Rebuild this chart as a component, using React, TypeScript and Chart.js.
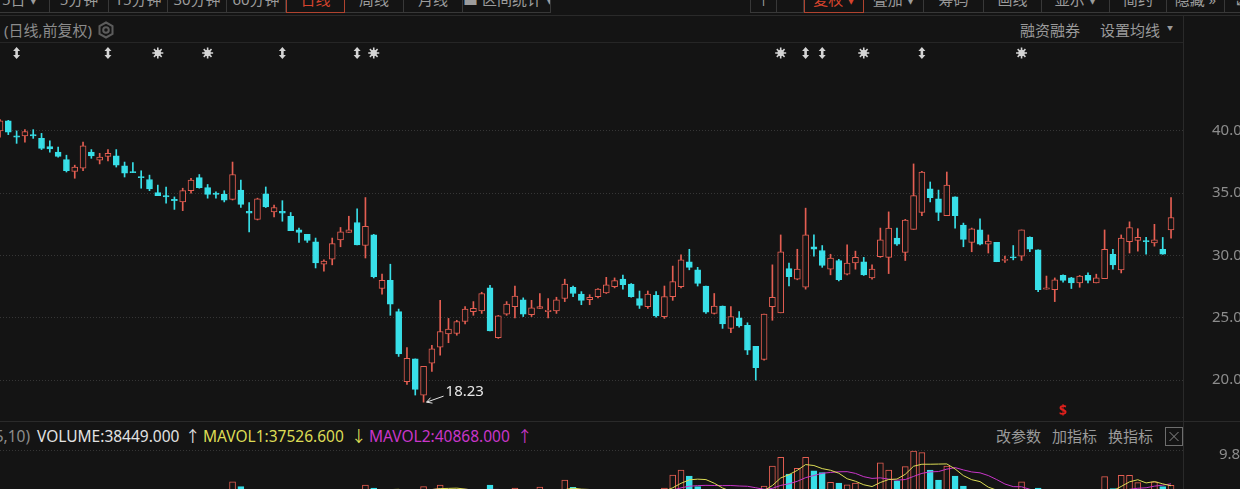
import React, { useEffect, useRef } from 'react';
import { Chart, registerables } from 'chart.js';

Chart.register(...registerables);

// ---------- data ----------
const openPrices = [
  40.0, 40.8, 39.6, 39.6, 39.7, 39.4, 38.75, 38.3, 37.7, 36.75,
  37.0, 38.3, 37.65, 37.95, 38.0, 37.2, 36.7, 36.3, 36.1, 35.05,
  34.8, 34.5, 34.3, 35.2, 36.25, 35.45, 35.0, 34.9, 34.5, 35.25,
  33.55, 32.9, 34.95, 33.5, 33.55, 33.15, 32.05, 31.7, 31.1, 29.3,
  29.7, 31.25, 31.85, 32.65, 30.8, 31.65, 27.35, 28.0, 25.5, 19.87,
  21.7, 18.8, 21.35, 22.65, 23.7, 23.75, 24.7, 25.5, 25.55, 27.4,
  23.4, 25.3, 25.9, 26.45, 25.25, 25.75, 25.5, 25.55, 26.55, 27.45,
  26.9, 26.45, 26.7, 27.0, 27.5, 28.1, 27.7, 26.55, 25.9, 26.8,
  25.1, 26.7, 27.5, 29.5, 28.85, 27.55, 25.35, 25.95, 24.15, 25.0,
  24.4, 22.7, 21.65, 25.9, 25.4, 28.95, 28.1, 27.45, 30.7, 30.4,
  28.9, 29.6, 28.5, 29.4, 29.5, 28.2, 29.9, 29.85, 31.4, 30.25,
  32.1, 33.45, 35.35, 34.55, 33.2, 34.7, 32.45, 31.05, 32.05, 30.9,
  31.05, 29.6, 29.9, 29.95, 31.45, 30.45, 27.3, 27.25, 28.4, 28.2,
  27.8, 28.4, 27.8, 28.15, 30.1, 28.85, 31.1, 31.2, 31.2, 31.0,
  30.5, 32.05,
];
const highPrices = [
  40.9, 40.85, 40.0, 40.1, 40.1, 39.8, 39.2, 38.7, 38.05, 37.25,
  39.1, 38.5, 38.2, 38.5, 38.5, 37.5, 37.45, 36.8, 36.45, 35.65,
  35.5, 34.7, 35.4, 36.2, 36.5, 35.7, 35.1, 35.2, 37.5, 36.05,
  34.25, 34.6, 35.5, 34.05, 34.4, 33.45, 32.2, 31.7, 31.4, 29.65,
  31.4, 32.25, 33.15, 33.75, 34.65, 31.7, 28.5, 29.3, 25.7, 22.6,
  21.7, 21.1, 22.8, 26.4, 24.95, 24.8, 25.9, 26.3, 27.05, 27.6,
  25.2, 26.3, 27.55, 26.6, 26.4, 26.95, 26.55, 26.65, 28.1, 27.55,
  27.1, 26.85, 27.35, 28.25, 28.2, 28.43, 27.75, 27.15, 27.15, 27.1,
  27.55, 29.15, 30.05, 30.5, 29.05, 27.55, 26.95, 25.95, 25.9, 25.5,
  24.6, 22.7, 25.3, 29.25, 31.65, 29.4, 30.5, 33.8, 31.65, 30.8,
  30.1, 29.7, 30.85, 30.35, 29.85, 29.25, 32.2, 33.5, 32.2, 32.9,
  37.35, 36.75, 35.9, 35.25, 36.7, 34.7, 32.6, 32.2, 32.95, 31.65,
  31.05, 29.95, 30.8, 32.05, 31.5, 30.45, 28.35, 28.2, 28.45, 28.25,
  28.4, 28.6, 28.5, 32.05, 30.5, 31.65, 32.7, 32.15, 31.45, 32.5,
  31.45, 34.65,
];
const lowPrices = [
  39.5, 39.7, 39.0, 39.1, 39.4, 38.5, 38.3, 37.9, 36.7, 36.2,
  36.8, 37.8, 37.35, 37.6, 37.1, 36.3, 36.65, 35.4, 35.2, 34.8,
  34.2, 33.7, 33.6, 35.0, 35.4, 34.6, 34.6, 34.3, 34.45, 33.85,
  31.9, 32.85, 33.85, 33.1, 32.75, 32.0, 31.05, 31.05, 29.0, 28.75,
  29.25, 30.7, 31.85, 30.85, 29.8, 28.2, 26.9, 25.2, 21.9, 19.65,
  18.8, 18.23, 20.7, 22.0, 23.0, 23.6, 24.5, 25.2, 25.35, 23.95,
  23.35, 25.2, 25.0, 25.1, 25.1, 25.75, 25.0, 25.35, 26.3, 26.7,
  26.05, 26.05, 26.6, 26.95, 27.4, 27.3, 26.65, 25.75, 25.75, 25.05,
  24.95, 26.4, 27.4, 28.85, 27.55, 25.35, 25.3, 24.15, 23.8, 24.25,
  22.05, 20.0, 21.6, 24.8, 25.4, 27.55, 28.05, 27.3, 29.95, 29.05,
  28.45, 27.95, 28.45, 28.9, 28.4, 28.1, 29.85, 28.55, 30.8, 29.6,
  32.1, 33.2, 34.3, 32.8, 33.2, 32.2, 30.7, 30.3, 30.85, 30.2,
  29.5, 29.45, 29.65, 29.6, 30.3, 27.1, 27.3, 26.3, 27.85, 27.35,
  27.45, 27.8, 27.8, 28.15, 28.9, 28.6, 30.2, 30.35, 30.1, 30.75,
  30.1, 31.4,
];
const closePrices = [
  40.8, 39.9, 39.5, 39.95, 39.6, 38.6, 38.55, 37.95, 36.8, 37.1,
  38.8, 38.0, 37.9, 38.2, 37.25, 36.6, 36.65, 36.25, 35.35, 34.8,
  34.7, 34.4, 35.2, 36.05, 35.45, 34.9, 34.9, 34.45, 36.5, 34.1,
  33.4, 34.55, 33.9, 33.85, 33.4, 32.0, 31.85, 31.2, 29.4, 29.55,
  30.95, 31.9, 32.05, 30.85, 32.35, 28.3, 28.0, 26.1, 22.1, 21.75,
  19.25, 21.1, 22.5, 23.9, 24.1, 24.7, 25.7, 25.75, 26.95, 23.95,
  25.15, 26.1, 26.75, 25.3, 25.8, 25.9, 25.6, 26.45, 27.7, 26.95,
  26.4, 26.65, 27.3, 27.65, 27.98, 27.65, 26.7, 26.0, 26.9, 25.15,
  26.7, 27.9, 29.65, 29.05, 27.75, 25.45, 25.95, 24.5, 25.1, 24.35,
  22.4, 21.0, 25.3, 26.65, 30.3, 28.3, 28.9, 31.65, 30.5, 29.2,
  29.8, 28.05, 29.4, 29.85, 28.45, 28.9, 31.25, 32.2, 30.9, 32.85,
  34.8, 36.7, 34.65, 33.45, 35.65, 33.2, 31.3, 32.15, 30.9, 31.15,
  29.5, 29.7, 29.8, 32.05, 30.5, 27.25, 27.4, 28.05, 28.0, 27.8,
  28.35, 28.0, 28.2, 30.5, 29.25, 31.4, 32.25, 31.45, 31.1, 31.25,
  30.1, 33.05,
];
const volumes = [
  18000, 21000, 16000, 15000, 14000, 20000, 15000, 16000, 24000, 19000,
  27000, 17000, 14000, 15000, 18000, 19000, 13000, 16000, 20000, 17000,
  15000, 16000, 21000, 22000, 18000, 16000, 12000, 15000, 44400, 36000,
  27000, 25000, 22000, 16000, 18000, 21000, 17000, 15000, 26000, 18000,
  22000, 21000, 19000, 29000, 38900, 33800, 24000, 30000, 31000, 28000,
  30000, 36000, 31000, 38900, 30000, 32000, 28000, 22000, 27000, 38900,
  30000, 25000, 33800, 26000, 22000, 35500, 24000, 26000, 47300, 35000,
  27000, 21000, 24000, 27000, 26000, 25000, 28000, 26000, 25000, 30000,
  33800, 55800, 64200, 54000, 36000, 30000, 25000, 24000, 27000, 22000,
  29000, 31000, 37000, 71000, 85700, 57500, 67000, 85700, 63000, 59700,
  43400, 42000, 39000, 42000, 30000, 28000, 76500, 64200, 46000, 69800,
  96300, 93500, 64200, 47300, 71000, 54000, 37000, 30000, 31000, 24000,
  29000, 18000, 20000, 44400, 28000, 33800, 22000, 25000, 18000, 17000,
  19000, 16000, 25000, 53000, 33000, 55000, 55000, 42800, 26000, 44400,
  36000, 38449,
];
const priceTicks = [20, 25, 30, 35, 40];
const volumeTicks = [98000];
const volumeTickLabels = ['9.8万'];
const upDownEventIdx = [2, 13, 34, 43, 97, 99, 111];
const starEventIdx = [19, 25, 45, 94, 104, 123];
const dividendIdx = [128];
const volumeLegend = { vol: '38449.000', ma1: '37526.600', ma2: '40868.000' };

// ---------- style ----------
const FONT = '"Noto Sans", "Noto Sans CJK SC", "DejaVu Sans", sans-serif';
const BG = '#141414';
const UP = '#e45e52';
const DOWN = '#38dfe8';
const MA1_COLOR = '#dcdc55';
const MA2_COLOR = '#c936c9';
const GRID = '#363636';
const LINE = '#2a2a2a';
const X_MAX = 142.44;

function movingAverage(values: number[], n: number) {
  return values.map((_, i) => {
    if (i < n - 1) return null;
    let s = 0;
    for (let k = i - n + 1; k <= i; k++) s += values[k];
    return s / n;
  });
}

function drawUpDown(ctx: CanvasRenderingContext2D, x: number, y: number) {
  ctx.beginPath();
  ctx.moveTo(x, y - 6);
  ctx.lineTo(x + 3.5, y - 2);
  ctx.lineTo(x + 1.3, y - 2);
  ctx.lineTo(x + 1.3, y + 2);
  ctx.lineTo(x + 3.5, y + 2);
  ctx.lineTo(x, y + 6);
  ctx.lineTo(x - 3.5, y + 2);
  ctx.lineTo(x - 1.3, y + 2);
  ctx.lineTo(x - 1.3, y - 2);
  ctx.lineTo(x - 3.5, y - 2);
  ctx.closePath();
  ctx.fill();
}

function drawStar(ctx: CanvasRenderingContext2D, x: number, y: number) {
  ctx.beginPath();
  ctx.arc(x, y, 3.2, 0, Math.PI * 2);
  ctx.fill();
  ctx.beginPath();
  for (let k = 0; k < 8; k++) {
    const a = (k * Math.PI) / 4;
    ctx.moveTo(x + Math.cos(a) * 2.5, y + Math.sin(a) * 2.5);
    ctx.lineTo(x + Math.cos(a) * 5.5, y + Math.sin(a) * 5.5);
  }
  ctx.stroke();
}

const annotationPlugin = {
  id: 'klineAnnotations',
  afterDatasetsDraw(chart: any) {
    const { ctx } = chart;
    const xs = chart.scales.x;
    const ys = chart.scales.y;
    ctx.save();
    // lowest price annotation
    let mi = 0;
    lowPrices.forEach((v, i) => {
      if (v < lowPrices[mi]) mi = i;
    });
    const px = xs.getPixelForValue(mi);
    const py = ys.getPixelForValue(lowPrices[mi]);
    ctx.strokeStyle = '#e6e6e6';
    ctx.fillStyle = '#e6e6e6';
    ctx.lineWidth = 1;
    const ax = px + 20, ay = py - 6, bx = px + 3, by = py;
    ctx.beginPath();
    ctx.moveTo(ax, ay);
    ctx.lineTo(bx, by);
    const ang = Math.atan2(ay - by, ax - bx);
    ctx.moveTo(bx, by);
    ctx.lineTo(bx + Math.cos(ang + 0.5) * 6, by + Math.sin(ang + 0.5) * 6);
    ctx.moveTo(bx, by);
    ctx.lineTo(bx + Math.cos(ang - 0.5) * 6, by + Math.sin(ang - 0.5) * 6);
    ctx.stroke();
    ctx.font = '15px ' + FONT;
    ctx.textAlign = 'left';
    ctx.textBaseline = 'alphabetic';
    ctx.fillText(lowPrices[mi].toFixed(2), px + 22, py - 6);

    // event markers row
    ctx.fillStyle = '#d4d4d4';
    ctx.strokeStyle = '#d4d4d4';
    ctx.lineWidth = 1.6;
    upDownEventIdx.forEach((i) => drawUpDown(ctx, xs.getPixelForValue(i), 9));
    starEventIdx.forEach((i) => drawStar(ctx, xs.getPixelForValue(i), 9));

    // dividend marker
    ctx.fillStyle = '#e0201c';
    ctx.font = 'bold 14px ' + FONT;
    ctx.textAlign = 'center';
    ctx.textBaseline = 'middle';
    dividendIdx.forEach((i) => ctx.fillText('$', xs.getPixelForValue(i), 367));
    ctx.restore();
  },
};

const leftTabs = [
  { t: '5日 ▾', l: -10, r: 50 },
  { t: '5分钟', l: 50, r: 109 },
  { t: '15分钟', l: 109, r: 168 },
  { t: '30分钟', l: 168, r: 227 },
  { t: '60分钟', l: 227, r: 286 },
  { t: '日线', l: 286, r: 345, active: true },
  { t: '周线', l: 345, r: 404 },
  { t: '月线', l: 404, r: 463 },
  { t: '■ 区间统计 ▾', l: 463, r: 551 },
];
const rightTabs = [
  { t: '↑', l: 750, r: 777 },
  { t: '', l: 777, r: 804 },
  { t: '复权 ▾', l: 804, r: 864, active: true },
  { t: '叠加 ▾', l: 864, r: 924 },
  { t: '筹码', l: 924, r: 984 },
  { t: '画线', l: 984, r: 1042 },
  { t: '显示 ▾', l: 1042, r: 1110 },
  { t: '简约', l: 1110, r: 1167 },
  { t: '隐藏 »', l: 1167, r: 1225 },
  { t: '⤢', l: 1225, r: 1260 },
];

function Tab({ t, l, r, active, first }: any) {
  return (
    <div
      style={{
        position: 'absolute',
        left: l,
        top: -12,
        width: r - l,
        height: 25,
        boxSizing: 'border-box',
        borderRight: active ? '1px solid #b0432f' : '1px solid #383838',
        borderBottom: active ? '1px solid #b0432f' : '1px solid #383838',
        borderLeft: active ? '1px solid #b0432f' : first ? '1px solid #383838' : 'none',
        color: active ? '#d7442e' : '#9c9c9c',
        fontSize: 15,
        lineHeight: '23px',
        textAlign: 'center',
        whiteSpace: 'nowrap',
        overflow: 'hidden',
      }}
    >
      {t}
    </div>
  );
}

const txt = (extra: any) => ({
  position: 'absolute' as const,
  whiteSpace: 'nowrap' as const,
  height: 20,
  lineHeight: '20px',
  ...extra,
});

export default function App() {
  const priceRef = useRef<HTMLCanvasElement>(null);
  const volRef = useRef<HTMLCanvasElement>(null);

  useEffect(() => {
    const idx = openPrices.map((_, i) => i);
    const up = idx.map((i) => closePrices[i] >= openPrices[i]);
    const xScale: any = {
      type: 'linear',
      display: false,
      min: 0,
      max: X_MAX,
      offset: false,
      grid: { display: false, offset: false },
    };

    const priceChart = new Chart(priceRef.current as HTMLCanvasElement, {
      type: 'bar',
      data: {
        datasets: [
          {
            label: 'body',
            data: idx.map((i) => ({ x: i, y: [openPrices[i], closePrices[i]] })) as any,
            backgroundColor: idx.map((i) => (up[i] ? BG : DOWN)),
            borderColor: idx.map((i) => (up[i] ? UP : DOWN)),
            borderWidth: 1,
            borderSkipped: false,
            barThickness: 6,
            minBarLength: 1,
            grouped: false,
          } as any,
          {
            label: 'wick',
            data: idx.map((i) => ({ x: i, y: [lowPrices[i], highPrices[i]] })) as any,
            backgroundColor: idx.map((i) => (up[i] ? UP : DOWN)),
            borderWidth: 0,
            barThickness: 1,
            grouped: false,
          } as any,
        ],
      },
      options: {
        responsive: false,
        animation: false,
        events: [],
        layout: { padding: { top: 16, bottom: 10, left: 0, right: 0 } },
        plugins: { legend: { display: false }, tooltip: { enabled: false } },
        scales: {
          x: xScale,
          y: {
            type: 'linear',
            position: 'right',
            min: 17.6,
            max: 45.69,
            afterBuildTicks: (s: any) => {
              s.ticks = priceTicks.map((v) => ({ value: v }));
            },
            afterFit: (s: any) => {
              s.width = 57;
              s.paddingTop = 0;
              s.paddingBottom = 0;
            },
            grid: { color: GRID, drawTicks: false, lineWidth: 1 },
            border: { display: false, dash: [1, 2] },
            ticks: {
              color: '#8c8c8c',
              padding: 29,
              font: { family: FONT, size: 15 },
              callback: (v: any) => Number(v).toFixed(2),
            },
          } as any,
        },
      },
      plugins: [annotationPlugin],
    });

    const ma5 = movingAverage(volumes, 5);
    const ma10 = movingAverage(volumes, 10);
    const volChart = new Chart(volRef.current as HTMLCanvasElement, {
      type: 'bar',
      data: {
        datasets: [
          {
            type: 'line',
            label: 'MAVOL1',
            data: idx.map((i) => ({ x: i, y: ma5[i] })) as any,
            borderColor: MA1_COLOR,
            borderWidth: 1,
            pointRadius: 0,
            tension: 0,
          } as any,
          {
            type: 'line',
            label: 'MAVOL2',
            data: idx.map((i) => ({ x: i, y: ma10[i] })) as any,
            borderColor: MA2_COLOR,
            borderWidth: 1,
            pointRadius: 0,
            tension: 0,
          } as any,
          {
            type: 'bar',
            label: 'VOLUME',
            data: idx.map((i) => ({ x: i, y: volumes[i] })) as any,
            backgroundColor: idx.map((i) => (up[i] ? BG : DOWN)),
            borderColor: idx.map((i) => (up[i] ? UP : DOWN)),
            borderWidth: 1,
            borderSkipped: false,
            barThickness: 6,
            grouped: false,
          } as any,
        ],
      },
      options: {
        responsive: false,
        animation: false,
        events: [],
        layout: { padding: 0 },
        plugins: { legend: { display: false }, tooltip: { enabled: false } },
        scales: {
          x: xScale,
          y: {
            type: 'linear',
            position: 'right',
            min: 0,
            max: 98000,
            afterBuildTicks: (s: any) => {
              s.ticks = volumeTicks.map((v) => ({ value: v }));
            },
            afterFit: (s: any) => {
              s.width = 57;
              s.paddingTop = 0;
              s.paddingBottom = 0;
            },
            grid: { color: GRID, drawTicks: false, lineWidth: 1 },
            border: { display: false, dash: [1, 2] },
            ticks: { display: false },
          } as any,
        },
      },
    });

    return () => {
      priceChart.destroy();
      volChart.destroy();
    };
  }, []);

  return (
    <div
      style={{
        position: 'fixed',
        left: 0,
        top: 0,
        width: 1240,
        height: 489,
        overflow: 'hidden',
        background: BG,
        fontFamily: FONT,
        color: '#999',
      }}
    >
      {/* toolbar (cut at the top) */}
      {leftTabs.map((b, k) => (
        <Tab key={'l' + k} {...b} />
      ))}
      {rightTabs.map((b, k) => (
        <Tab key={'r' + k} {...b} first={k === 0} />
      ))}
      <div style={{ position: 'absolute', left: 0, top: 15, width: 1240, height: 1, background: LINE }} />

      {/* header row */}
      <div style={txt({ left: 4, top: 20, fontSize: 15, color: '#8c8c8c' })}>(日线,前复权)</div>
      <svg style={{ position: 'absolute', left: 97, top: 21 }} width={18} height={18} viewBox="0 0 18 18">
        <polygon points="9,1.5 15.5,5 15.5,13 9,16.5 2.5,13 2.5,5" fill="none" stroke="#5c5c5c" strokeWidth={2} />
        <circle cx={9} cy={9} r={2.8} fill="none" stroke="#5c5c5c" strokeWidth={2} />
      </svg>
      <div style={txt({ left: 1020, top: 20, fontSize: 15, color: '#9a9a9a' })}>融资融券</div>
      <div style={txt({ left: 1100, top: 20, fontSize: 15, color: '#9a9a9a' })}>设置均线</div>
      <div style={txt({ left: 1167, top: 18, fontSize: 6, color: '#9a9a9a' })}>▼</div>
      <div style={{ position: 'absolute', left: 0, top: 42, width: 1183, height: 1, background: '#262626' }} />

      {/* price chart */}
      <canvas
        ref={priceRef}
        width={1240}
        height={376}
        style={{ position: 'absolute', left: 0, top: 44, width: 1240, height: 376 }}
      />

      {/* volume header */}
      <div style={{ position: 'absolute', left: 0, top: 421, width: 1240, height: 1, background: LINE }} />
      <div style={txt({ left: -10, top: 426, fontSize: 15.5, color: '#8c8c8c' })}>(5,10)</div>
      <div style={txt({ left: 37, top: 426, fontSize: 15.5, color: '#e2e2e2' })}>VOLUME:{volumeLegend.vol}</div>
      <div style={txt({ left: 185, top: 426, fontSize: 15.5, color: '#e2e2e2' })}>↑</div>
      <div style={txt({ left: 203, top: 426, fontSize: 15.5, color: MA1_COLOR })}>MAVOL1:{volumeLegend.ma1}</div>
      <div style={txt({ left: 351, top: 426, fontSize: 15.5, color: MA1_COLOR })}>↓</div>
      <div style={txt({ left: 369, top: 426, fontSize: 15.5, color: MA2_COLOR })}>MAVOL2:{volumeLegend.ma2}</div>
      <div style={txt({ left: 517, top: 426, fontSize: 15.5, color: MA2_COLOR })}>↑</div>
      <div style={txt({ left: 996, top: 426, fontSize: 15, color: '#9a9a9a' })}>改参数</div>
      <div style={txt({ left: 1052, top: 426, fontSize: 15, color: '#9a9a9a' })}>加指标</div>
      <div style={txt({ left: 1108, top: 426, fontSize: 15, color: '#9a9a9a' })}>换指标</div>
      <svg style={{ position: 'absolute', left: 1165, top: 427 }} width={18} height={19} viewBox="0 0 18 19">
        <rect x={0.5} y={0.5} width={17} height={18} fill="none" stroke="#6e6e6e" strokeWidth={1} />
        <path d="M4.5 5 L13.5 14 M13.5 5 L4.5 14" stroke="#8a8a8a" strokeWidth={1} />
      </svg>

      {/* volume chart */}
      <canvas
        ref={volRef}
        width={1240}
        height={58}
        style={{ position: 'absolute', left: 0, top: 450, width: 1240, height: 58 }}
      />
      <div style={txt({ left: 1219, top: 443, fontSize: 15, color: '#8c8c8c' })}>{volumeTickLabels[0]}</div>

      {/* right divider */}
      <div style={{ position: 'absolute', left: 1183, top: 15, width: 1, height: 480, background: LINE }} />
    </div>
  );
}
